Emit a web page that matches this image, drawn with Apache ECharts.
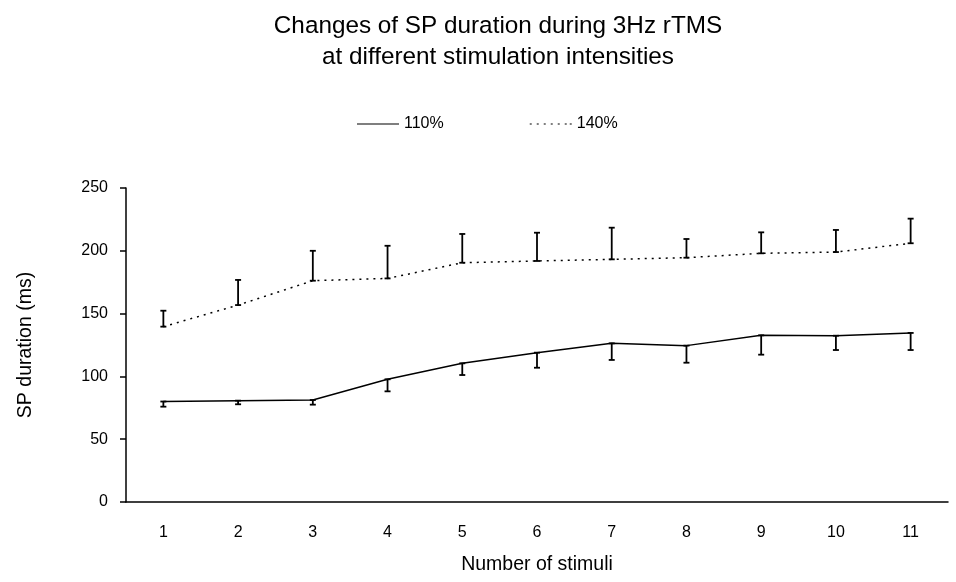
<!DOCTYPE html>
<html>
<head>
<meta charset="utf-8">
<script src="https://cdn.jsdelivr.net/npm/echarts@6/dist/echarts.min.js"></script>
<style>
  html, body { margin: 0; padding: 0; background: #fff; }
  #main { width: 956px; height: 582px; }
</style>
</head>
<body>
<div id="main"></div>
<script>
// stimulus number on the x axis
var stimuli = ['1', '2', '3', '4', '5', '6', '7', '8', '9', '10', '11'];
// mean SP duration (ms)
var mean110 = [80, 80.7, 81.2, 97.7, 110.4, 118.9, 126.3, 124.5, 132.7, 132.4, 134.6];
var mean140 = [139.6, 156.8, 176.2, 178, 190.5, 191.9, 193.2, 194.5, 198, 199, 206];
// error bar ends (110% drawn downward, 140% drawn upward)
var errLow110 = [75.9, 77.8, 77.5, 88.1, 101.1, 106.9, 113.1, 110.9, 117.3, 121, 121];
var errHigh140 = [152.3, 176.8, 200, 204, 213.4, 214.4, 218.4, 209.4, 214.7, 216.6, 225.6];

var font = 'Liberation Sans, Arial, sans-serif';

// legend icons: a solid stroke and a row of short dots
var solidIcon = 'path://M0,0 L42,0 L42,1 L0,1 Z';
var dotIcon = 'path://M0,0h2v1h-2z M7,0h2v1h-2z M14,0h2v1h-2z M21,0h2v1h-2z M28,0h2v1h-2z M35,0h2v1h-2z M40,0h2v1h-2z';

function errData(a, b) {
    var out = [];
    for (var i = 0; i < a.length; i++) {
        out.push([i, a[i], b[i]]);
    }
    return out;
}

function drawErr(params, api) {
    var x = api.value(0);
    var top = api.coord([x, api.value(2)]);
    var bot = api.coord([x, api.value(1)]);
    var w = 3;
    var style = { stroke: '#000', lineWidth: 1.8 };
    return {
        type: 'group',
        children: [
            { type: 'line', shape: { x1: top[0], y1: top[1], x2: bot[0], y2: bot[1] }, style: style },
            { type: 'line', shape: { x1: top[0] - w, y1: top[1], x2: top[0] + w, y2: top[1] }, style: style },
            { type: 'line', shape: { x1: bot[0] - w, y1: bot[1], x2: bot[0] + w, y2: bot[1] }, style: style }
        ]
    };
}

var myChart = echarts.init(document.getElementById('main'));
var option = {
    backgroundColor: '#fff',
    animation: false,
    title: {
        text: 'Changes of SP duration during 3Hz rTMS\nat different stimulation intensities',
        left: 493,
        textAlign: 'center',
        top: 6,
        textStyle: { fontFamily: font, fontSize: 24.3, fontWeight: 'normal', color: '#000', lineHeight: 31 }
    },
    legend: {
        top: 111,
        left: 352,
        itemGap: 86,
        itemWidth: 42,
        itemHeight: 2,
        textStyle: { fontFamily: font, fontSize: 16, color: '#000', lineHeight: 16 },
        data: [
            { name: '110%', icon: solidIcon, itemStyle: { color: '#000' } },
            { name: '140%', icon: dotIcon, itemStyle: { color: '#000' } }
        ]
    },
    grid: { left: 126, right: 8, top: 188, bottom: 80 },
    xAxis: {
        type: 'category',
        data: stimuli,
        boundaryGap: true,
        name: 'Number of stimuli',
        nameLocation: 'middle',
        nameGap: 53,
        nameTextStyle: { fontFamily: font, fontSize: 19.5, color: '#000' },
        axisLine: { lineStyle: { color: '#000', width: 1.5 } },
        axisTick: { length: 6, lineStyle: { color: '#000', width: 1.5 } },
        axisLabel: { fontFamily: font, fontSize: 16, color: '#000', margin: 23 },
        splitLine: { show: false }
    },
    yAxis: {
        type: 'value',
        min: 0,
        max: 250,
        interval: 50,
        name: 'SP duration (ms)',
        nameLocation: 'middle',
        nameGap: 90,
        nameTextStyle: { fontFamily: font, fontSize: 19.5, color: '#000' },
        axisLine: { show: true, lineStyle: { color: '#000', width: 1.5 } },
        axisTick: { show: true, length: 6, lineStyle: { color: '#000', width: 1.5 } },
        axisLabel: { fontFamily: font, fontSize: 16, color: '#000', margin: 18 },
        splitLine: { show: false }
    },
    series: [
        {
            name: '110%',
            type: 'line',
            data: mean110,
            symbol: 'none',
            itemStyle: { color: '#000' },
            lineStyle: { color: '#000', width: 1.5, type: 'solid' }
        },
        {
            name: '140%',
            type: 'line',
            data: mean140,
            symbol: 'none',
            itemStyle: { color: '#000' },
            lineStyle: { color: '#000', width: 1.5, type: [2, 5] }
        },
        {
            type: 'custom',
            data: errData(errLow110, mean110),
            renderItem: drawErr,
            z: 3
        },
        {
            type: 'custom',
            data: errData(mean140, errHigh140),
            renderItem: drawErr,
            z: 3
        }
    ]
};
myChart.setOption(option);
</script>
</body>
</html>
